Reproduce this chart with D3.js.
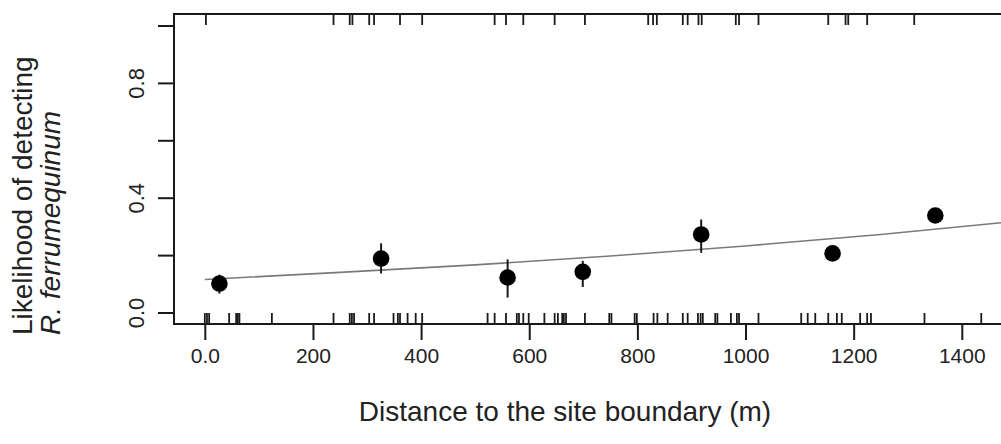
<!DOCTYPE html>
<html>
<head>
<meta charset="utf-8">
<script src="https://cdn.jsdelivr.net/npm/d3@7"></script>
<style>
  body { margin: 0; background: #fff; }
  svg text { font-family: "Liberation Sans", Arial, sans-serif; fill: #222; }
</style>
</head>
<body>
<div class="rug-chart"></div>
<script>
"use strict";

// binned means with error bars
var binDist = [27, 326, 560, 699, 918, 1161, 1351];
var binMean = [0.101, 0.188, 0.122, 0.142, 0.272, 0.206, 0.338];
var binLow  = [0.066, 0.136, 0.052, 0.089, 0.208, 0.192, 0.326];
var binHigh = [0.132, 0.241, 0.185, 0.180, 0.324, 0.220, 0.350];

// fitted curve
var fitDist = [0, 250, 500, 750, 1000, 1250, 1500];
var fitProb = [0.115, 0.140, 0.166, 0.197, 0.232, 0.272, 0.318];

// rug: detections (top) and non detections (bottom)
var rugPresent = [2, 238, 268, 273, 304, 313, 361, 402, 536, 557, 589, 647, 703,
  820, 829, 836, 884, 893, 913, 919, 982, 988, 1024, 1153, 1185, 1190, 1225, 1312];
var rugAbsent = [0, 4, 8, 45, 58, 61, 64, 124, 238, 268, 272, 276, 304, 313, 349,
  357, 361, 375, 390, 402, 523, 536, 557, 577, 581, 589, 599, 628, 647, 653,
  661, 664, 668, 703, 748, 752, 795, 799, 830, 837, 856, 884, 893, 912, 917, 921,
  944, 948, 973, 984, 988, 1024, 1103, 1115, 1129, 1153, 1169, 1178, 1212, 1225,
  1232, 1331, 1436];

var xTicks = [0, 200, 400, 600, 800, 1000, 1200, 1400];
var xTickLabels = ["0.0", "200", "400", "600", "800", "1000", "1200", "1400"];
var yTicks = [0, 0.2, 0.4, 0.6, 0.8, 1.0];
var yTickLabels = ["0.0", "", "0.4", "", "0.8", ""];

var W = 1001, H = 444;
var box = {left: 174, top: 14, bottom: 324};

var x = d3.scaleLinear().domain([-57, 1500]).range([box.left, box.left + 1557 * 0.5407]);
var y = d3.scaleLinear().domain([-0.04, 1.04]).range([box.bottom, box.top]);

var svg = d3.select(".rug-chart").append("svg")
  .attr("width", W).attr("height", H);

var ink = "#1a1a1a";

// fitted line
var line = d3.line()
  .x(function(d, i){ return x(fitDist[i]); })
  .y(function(d){ return y(d); })
  .curve(d3.curveMonotoneX);
svg.append("path").datum(fitProb)
  .attr("d", line)
  .attr("fill", "none")
  .attr("stroke", "#7a7a7a")
  .attr("stroke-width", 1.6);

// rugs
svg.selectAll(".rugTop").data(rugPresent).enter().append("line")
  .attr("class", "rugTop")
  .attr("x1", function(d){ return x(d); }).attr("x2", function(d){ return x(d); })
  .attr("y1", box.top).attr("y2", box.top + 11)
  .attr("stroke", ink).attr("stroke-width", 1.8);
svg.selectAll(".rugBottom").data(rugAbsent).enter().append("line")
  .attr("class", "rugBottom")
  .attr("x1", function(d){ return x(d); }).attr("x2", function(d){ return x(d); })
  .attr("y1", box.bottom).attr("y2", box.bottom - 11)
  .attr("stroke", ink).attr("stroke-width", 1.8);

// error bars and points
var pts = svg.append("g").attr("class", "pts");
pts.selectAll(".err").data(binDist).enter().append("line")
  .attr("class", "err")
  .attr("x1", function(d){ return x(d); }).attr("x2", function(d){ return x(d); })
  .attr("y1", function(d, i){ return y(binLow[i]); })
  .attr("y2", function(d, i){ return y(binHigh[i]); })
  .attr("stroke", ink).attr("stroke-width", 2);
pts.selectAll(".dot").data(binDist).enter().append("circle")
  .attr("class", "dot")
  .attr("cx", function(d){ return x(d); })
  .attr("cy", function(d, i){ return y(binMean[i]); })
  .attr("r", 8.3)
  .attr("fill", "#000");

// box (right side is off the page)
svg.append("path")
  .attr("d", "M" + W + "," + box.top + "H" + box.left + "V" + box.bottom + "H" + W)
  .attr("fill", "none").attr("stroke", ink).attr("stroke-width", 2);

// x axis
var xAxis = d3.axisBottom(x).tickValues(xTicks)
  .tickSize(16).tickPadding(8)
  .tickFormat(function(d, i){ return xTickLabels[i]; });
var gx = svg.append("g").attr("transform", "translate(0," + box.bottom + ")").call(xAxis);
gx.select(".domain").remove();
gx.selectAll(".tick line").attr("stroke", ink).attr("stroke-width", 2);
gx.selectAll(".tick text").style("font-size", "21px").attr("fill", "#333");

// y axis, labels rotated like base R
var yAxis = d3.axisLeft(y).tickValues(yTicks).tickSize(16)
  .tickFormat(function(d, i){ return yTickLabels[i]; });
var gy = svg.append("g").attr("transform", "translate(" + box.left + ",0)").call(yAxis);
gy.select(".domain").remove();
gy.selectAll(".tick line").attr("stroke", ink).attr("stroke-width", 2);
gy.selectAll(".tick text")
  .style("font-size", "22px").attr("fill", "#333")
  .attr("x", null)
  .attr("text-anchor", "middle")
  .attr("transform", "translate(-38,0) rotate(-90)")
  .attr("y", 0).attr("dy", "0.35em");

// titles
svg.append("text")
  .text("Distance to the site boundary (m)")
  .attr("x", 565).attr("y", 421)
  .style("font-size", "28px")
  .attr("text-anchor", "middle");

var ylab = svg.append("g").attr("transform", "translate(0,335) rotate(-90)");
ylab.append("text").text("Likelihood of detecting")
  .attr("x", 0).attr("y", 32)
  .style("font-size", "28px");
ylab.append("text").text("R. ferrumequinum")
  .attr("x", 0).attr("y", 60)
  .style("font-size", "28px").style("font-style", "italic");
</script>
</body>
</html>
